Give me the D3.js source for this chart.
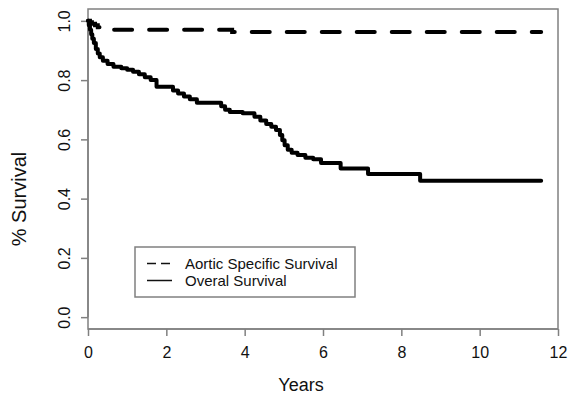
<!DOCTYPE html>
<html>
<head>
<meta charset="utf-8">
<script src="https://cdn.jsdelivr.net/npm/d3@7"></script>
<style>
  body { margin: 0; background: #fff; }
  svg { display: block; font-family: "Liberation Sans", Arial, sans-serif; }
</style>
</head>
<body>
<svg id="chart" width="573" height="403"></svg>
<script>
// Kaplan-Meier estimates (years, survival)
const overallTimes = [0, 0.02, 0.05, 0.08, 0.11, 0.15, 0.2, 0.25, 0.3, 0.38, 0.5, 0.65, 0.85, 1.0, 1.15, 1.3, 1.45, 1.6, 1.75, 2.17, 2.3, 2.45, 2.6, 2.78, 3.4, 3.5, 3.62, 3.95, 4.25, 4.4, 4.55, 4.68, 4.8, 4.9, 4.96, 5.02, 5.1, 5.2, 5.35, 5.55, 5.75, 5.95, 6.45, 7.15, 8.48, 11.57];
const overallSurv  = [1.0, 0.985, 0.97, 0.955, 0.94, 0.925, 0.905, 0.89, 0.877, 0.865, 0.854, 0.845, 0.84, 0.835, 0.828, 0.82, 0.81, 0.8, 0.778, 0.765, 0.755, 0.745, 0.735, 0.724, 0.712, 0.7, 0.692, 0.688, 0.676, 0.664, 0.652, 0.643, 0.632, 0.615, 0.597, 0.58, 0.565, 0.555, 0.547, 0.538, 0.533, 0.52, 0.502, 0.483, 0.46, 0.46];

const aorticTimes = [0, 0.05, 0.1, 0.18, 0.25, 0.3, 3.68, 11.57];
const aorticSurv  = [1.0, 0.995, 0.99, 0.985, 0.978, 0.97, 0.962, 0.962];

const xTicks = [0, 2, 4, 6, 8, 10, 12];
const yTicks = [0, 0.2, 0.4, 0.6, 0.8, 1.0];
const legendLabels = ["Aortic Specific Survival", "Overal Survival"];

const svg = d3.select("#chart");
const margin = { top: 9, right: 15, bottom: 74, left: 88 };
const width = 573 - margin.left - margin.right;
const height = 403 - margin.top - margin.bottom;
const axisColor = "#808080";

const x = d3.scaleLinear().domain([0, 12]).range([margin.left, margin.left + width]);
const y = d3.scaleLinear().domain([-0.04, 1.04]).range([margin.top + height, margin.top]);

// plot box
svg.append("rect")
    .attr("x", x(0)).attr("y", y(1.04))
    .attr("width", x(12) - x(0)).attr("height", y(-0.04) - y(1.04))
    .attr("fill", "none").attr("stroke", axisColor).attr("stroke-width", 1.5);

// axes
const xAxis = svg.append("g")
    .attr("transform", `translate(0,${y(-0.04)})`)
    .call(d3.axisBottom(x).tickValues(xTicks).tickSize(7).tickPadding(6).tickFormat(d3.format("d")));
const yAxis = svg.append("g")
    .attr("transform", `translate(${x(0)},0)`)
    .call(d3.axisLeft(y).tickValues(yTicks).tickSize(7).tickFormat(d3.format(".1f")));

[xAxis, yAxis].forEach(g => {
    g.select(".domain").attr("stroke", axisColor).attr("stroke-width", 1.5);
    g.selectAll(".tick line").attr("stroke", axisColor).attr("stroke-width", 1.5);
    g.selectAll("text").attr("fill", "#111").style("font-size", "16px");
});
xAxis.select(".domain").attr("d", `M${x(0)},0H${x(12)}`);
yAxis.select(".domain").attr("d", `M0,${y(0)}V${y(1)}`);
xAxis.selectAll("text").attr("y", 18).attr("dy", "0.71em");
yAxis.selectAll(".tick text")
    .attr("x", null).attr("dy", null)
    .attr("text-anchor", "middle")
    .attr("transform", "translate(-18,0) rotate(-90)");

// axis titles
svg.append("text")
    .attr("x", 301).attr("y", 391)
    .attr("text-anchor", "middle")
    .style("font-size", "18px").attr("fill", "#111")
    .text("Years");
svg.append("text")
    .attr("transform", "translate(26,199) rotate(-90)")
    .attr("text-anchor", "middle")
    .style("font-size", "20px").attr("fill", "#111")
    .text("% Survival");

// survival curves
const line = d3.line()
    .x(d => x(d[0]))
    .y(d => y(d[1]))
    .curve(d3.curveStepAfter);

svg.append("path")
    .datum(overallTimes.map((t, i) => [t, overallSurv[i]]))
    .attr("fill", "none").attr("stroke", "#000")
    .attr("stroke-width", 4).attr("stroke-linejoin", "round").attr("stroke-linecap", "round")
    .attr("d", line);

svg.append("path")
    .datum(aorticTimes.map((t, i) => [t, aorticSurv[i]]))
    .attr("fill", "none").attr("stroke", "#000")
    .attr("stroke-width", 4).attr("stroke-linecap", "round")
    .attr("stroke-dasharray", "18,17").attr("stroke-dashoffset", 0)
    .attr("d", line);

// legend
const legend = svg.append("g").attr("transform", "translate(135,247)");
legend.append("rect")
    .attr("width", 220).attr("height", 50)
    .attr("fill", "#fff").attr("stroke", axisColor).attr("stroke-width", 1.5);
legendLabels.forEach((label, i) => {
    const ly = 16.5 + i * 17;
    legend.append("line")
        .attr("x1", 12).attr("x2", 37).attr("y1", ly).attr("y2", ly)
        .attr("stroke", "#111").attr("stroke-width", 1.5)
        .attr("stroke-dasharray", i === 0 ? "9,5" : null);
    legend.append("text")
        .attr("x", 50).attr("y", ly).attr("dy", "0.35em")
        .style("font-size", "15px").attr("fill", "#111")
        .text(label);
});
</script>
</body>
</html>
